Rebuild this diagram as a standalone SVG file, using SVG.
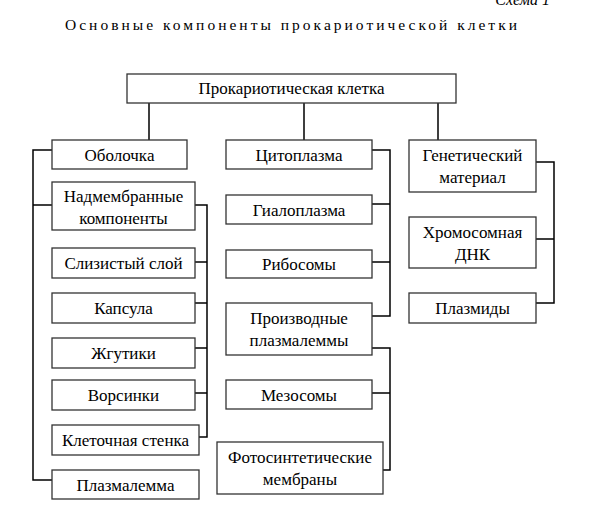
<svg xmlns="http://www.w3.org/2000/svg" width="590" height="528" viewBox="0 0 590 528">
<style>
.box{fill:#fff;stroke:#333;stroke-width:1.3}
.f{font-family:'Liberation Serif','DejaVu Serif',serif}
.t{font-family:'Liberation Serif','DejaVu Serif',serif;font-size:17px;fill:#000;text-anchor:middle}
.c{fill:none;stroke:#000;stroke-width:1.5}
</style>
<rect width="590" height="528" fill="#fff"/>
<text class="f" x="550" y="5" font-style="italic" font-size="16" text-anchor="end" fill="#000">Схема 1</text>
<text class="f" x="291" y="30" font-size="15.5" text-anchor="middle" textLength="452" lengthAdjust="spacing" fill="#000">Основные компоненты прокариотической клетки</text>

<g id="connectors" class="c">
<path d="M149 103V140M304 103V140M438 103V140"/>
<path d="M52 150H33V480H52M33 205H52"/>
<path d="M195 205H207V437H199M195 262H207M195 303H207M195 348H207M195 393H207"/>
<path d="M372 150H390V316H372M372 204H390M372 262H390"/>
<path d="M372 348H390V470H383M372 393H390"/>
<path d="M536 162H554V303H536M536 239H554"/>
</g>

<g id="n-root"><rect class="box" x="127" y="74" width="329" height="29"/><text class="t" x="291.5" y="94">Прокариотическая клетка</text></g>

<g id="n-obolochka"><rect class="box" x="52" y="140" width="135" height="29"/><text class="t" x="119.5" y="160.5">Оболочка</text></g>
<g id="n-nadmembr"><rect class="box" x="52" y="182" width="143" height="48"/><text class="t" x="123.5" y="202">Надмембранные</text><text class="t" x="123.5" y="224">компоненты</text></g>
<g id="n-sliz"><rect class="box" x="52" y="248" width="143" height="30"/><text class="t" x="123.5" y="269">Слизистый слой</text></g>
<g id="n-kapsula"><rect class="box" x="52" y="293" width="143" height="30"/><text class="t" x="123.5" y="314">Капсула</text></g>
<g id="n-zhgutiki"><rect class="box" x="52" y="338" width="143" height="30"/><text class="t" x="123.5" y="359">Жгутики</text></g>
<g id="n-vorsinki"><rect class="box" x="52" y="380" width="143" height="30"/><text class="t" x="123.5" y="401">Ворсинки</text></g>
<g id="n-stenka"><rect class="box" x="52" y="425" width="147" height="30"/><text class="t" x="125.5" y="446">Клеточная стенка</text></g>
<g id="n-plazmalemma"><rect class="box" x="52" y="470" width="147" height="29"/><text class="t" x="125.5" y="491">Плазмалемма</text></g>

<g id="n-citoplazma"><rect class="box" x="226" y="140" width="146" height="29"/><text class="t" x="299" y="160.5">Цитоплазма</text></g>
<g id="n-gialoplazma"><rect class="box" x="226" y="195" width="146" height="29"/><text class="t" x="299" y="215.5">Гиалоплазма</text></g>
<g id="n-ribosomy"><rect class="box" x="226" y="250" width="146" height="28"/><text class="t" x="299" y="270">Рибосомы</text></g>
<g id="n-proizvodnye"><rect class="box" x="226" y="303" width="146" height="52"/><text class="t" x="299" y="324">Производные</text><text class="t" x="299" y="346">плазмалеммы</text></g>
<g id="n-mezosomy"><rect class="box" x="226" y="380" width="146" height="29"/><text class="t" x="299" y="400.5">Мезосомы</text></g>
<g id="n-foto"><rect class="box" x="217" y="442" width="166" height="52"/><text class="t" x="300" y="463">Фотосинтетические</text><text class="t" x="300" y="485">мембраны</text></g>

<g id="n-genetic"><rect class="box" x="409" y="140" width="127" height="52"/><text class="t" x="472.5" y="161">Генетический</text><text class="t" x="472.5" y="183">материал</text></g>
<g id="n-dnk"><rect class="box" x="409" y="217" width="127" height="51"/><text class="t" x="472.5" y="238">Хромосомная</text><text class="t" x="472.5" y="260">ДНК</text></g>
<g id="n-plazmidy"><rect class="box" x="409" y="293" width="127" height="30"/><text class="t" x="472.5" y="314">Плазмиды</text></g>
</svg>
